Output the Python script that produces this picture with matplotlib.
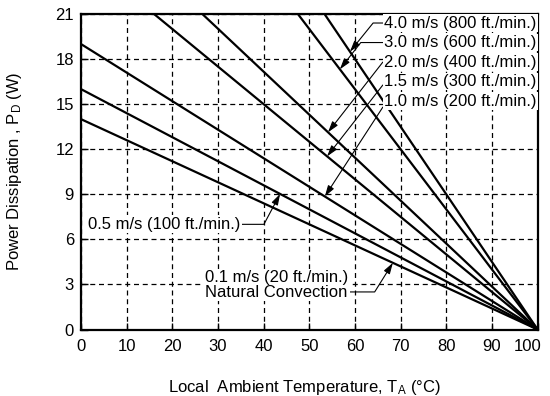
import matplotlib.pyplot as plt
from matplotlib import transforms

plt.rcParams['font.family'] = ['Liberation Sans', 'DejaVu Sans']
plt.rcParams['font.size'] = 12
plt.rcParams['mathtext.default'] = 'regular'

# derating curves: straight lines from (0 C, P0) down to (100 C, 0 W)
temp_ends = [0, 100]
airflow_labels = [
    "0.1 m/s (20 ft./min.)\nNatural Convection",
    "0.5 m/s (100 ft./min.)",
    "1.0 m/s (200 ft./min.)",
    "1.5 m/s (300 ft./min.)",
    "2.0 m/s (400 ft./min.)",
    "3.0 m/s (600 ft./min.)",
    "4.0 m/s (800 ft./min.)",
]
power_at_0c = [14, 16, 19, 25, 28.6, 40, 45]

x_ticks = [0, 10, 20, 30, 40, 50, 60, 70, 80, 90, 100]
y_ticks = [0, 3, 6, 9, 12, 15, 18, 21]

# label placement (layout only): text anchor, arrow tip x, leader angle
label_xy = [(27.2, 2.95), (1.5, 7.0), (66.4, 15.2), (66.4, 16.5),
            (66.4, 17.8), (66.4, 19.1), (66.4, 20.4)]
label_ha = ['left'] * 7
label_relpos = [(1, 0.27), (1, 0.5), (0, 0.5), (0, 0.5), (0, 0.5), (0, 0.5), (0, 0.5)]
tip_x = [68.3, 43.6, 53.4, 53.9, 54.1, 56.7, 58.9]
leader_angle = [58, 62, 57, 52, 52, 52, 51]

fig = plt.figure(figsize=(5.5, 3.96), dpi=100)
ax = fig.add_axes([81 / 550, 1 - 329.5 / 396, 456.6 / 550, 315.5 / 396])

for p0 in power_at_0c:
    ax.plot(temp_ends, [p0, 0], color='black', lw=1.6, zorder=2)

ax.set_xlim(0, 100)
ax.set_ylim(0, 21)
ax.set_xticks(x_ticks)
ax.set_yticks(y_ticks)
ax.grid(True, color='black', linestyle=(0, (4, 3)), linewidth=0.9)
ax.tick_params(direction='in', length=5, width=1, color='black')
ax.tick_params(axis='x', pad=7)
ax.tick_params(axis='y', pad=5)
for s in ax.spines.values():
    s.set_linewidth(1.6)

# last x tick label is pulled in so it stays on the page
lab = ax.get_xticklabels()[-1]
lab.set_transform(lab.get_transform() +
                  transforms.ScaledTranslation(-10 / 100, 0, fig.dpi_scale_trans))

for i, text in enumerate(airflow_labels):
    p0 = power_at_0c[i]
    tx = tip_x[i]
    ty = p0 * (1 - tx / temp_ends[1])
    ax.annotate(text, xy=(tx, ty), xytext=label_xy[i], ha=label_ha[i],
                va='center', linespacing=0.95, zorder=4,
                bbox=dict(facecolor='white', edgecolor='none', pad=1),
                arrowprops=dict(arrowstyle='-|>,head_length=0.55,head_width=0.17',
                                color='black', lw=0.8, shrinkA=0, shrinkB=0,
                                relpos=label_relpos[i],
                                connectionstyle='angle,angleA=0,angleB=%d,rad=0' % leader_angle[i]))

ax.set_xlabel('Local  Ambient Temperature, T$_{A}$ (°C)')
ax.set_ylabel('Power Dissipation , P$_{D}$ (W)')
ax.xaxis.set_label_coords(0.49, -0.155)
ax.yaxis.set_label_coords(-0.125, 0.5)

fig.savefig('out.png', dpi=100)
